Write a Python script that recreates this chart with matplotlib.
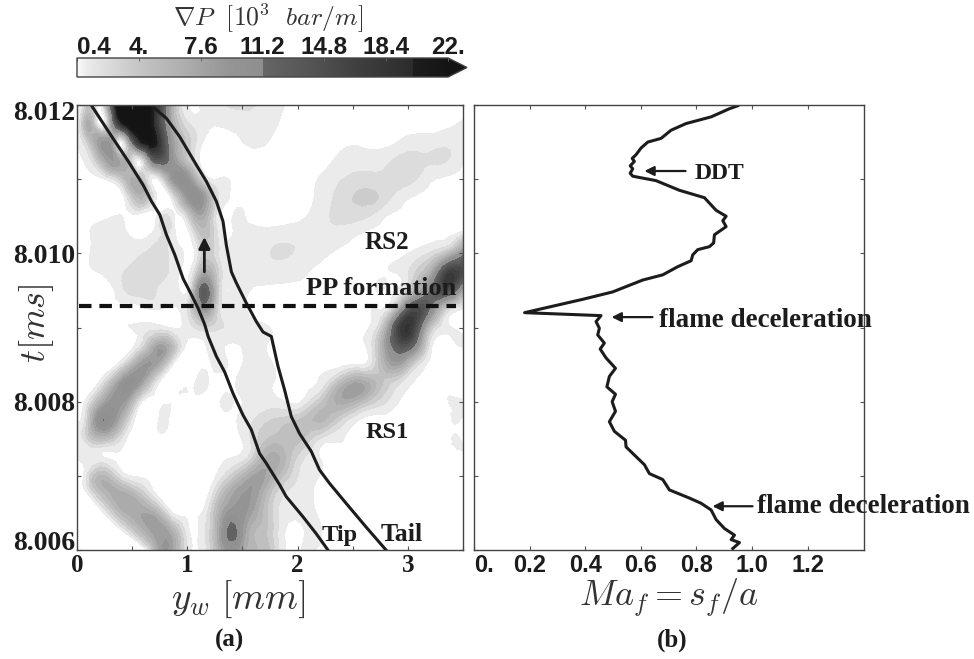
import numpy as np
import matplotlib
matplotlib.use('Agg')
import matplotlib.pyplot as plt
import matplotlib.tri as mtri
from matplotlib.colors import LinearSegmentedColormap, Normalize
from matplotlib.cm import ScalarMappable
from matplotlib.transforms import ScaledTranslation

plt.rcParams['mathtext.fontset'] = 'cm'

# pressure gradient (a) along rows of constant time
# row_t in us past 8 ms, row_y in mm, row_v in 10^3 bar/m
row_t = [12.0, 11.75, 11.5, 11.25, 11.0, 10.75, 10.5, 10.25, 10.0, 9.75, 9.5, 9.25, 9.0,
         8.75, 8.5, 8.25, 8.0, 7.75, 7.5, 7.25, 7.0, 6.75, 6.5, 6.25, 6.0]
row_y = [
    [0, .03, .09, .19, .36, .49, .66, .96, 1.2, 1.85, 2.0, 2.8, 3.6],
    [0, .03, .13, .25, .37, .49, .66, .84, 1.05, 1.3, 1.8, 1.95, 2.6, 3.3, 3.45, 3.6],
    [0, .12, .25, .34, .40, .49, .66, .78, .98, 1.14, 1.4, 2.1, 2.8, 2.9, 3.2, 3.4, 3.6],
    [0, .06, .2, .37, .46, .55, .66, .77, .90, 1.11, 1.4, 1.8, 2.2, 2.32, 2.5, 2.85, 3.1, 3.36, 3.5, 3.6],
    [0, .25, .4, .55, .71, .81, .95, 1.14, 1.26, 1.5, 2.05, 2.18, 2.41, 2.7, 3.08, 3.25, 3.6],
    [0, .43, .63, .84, 1.08, 1.23, 1.38, 1.6, 2.0, 2.15, 2.32, 2.7, 2.85, 3.02, 3.3, 3.6],
    [0, .33, .5, .72, .81, .92, 1.01, 1.14, 1.26, 1.41, 1.6, 1.95, 2.08, 2.29, 2.65, 2.8, 3.0, 3.6],
    [0, .12, .4, .7, .89, 1.01, 1.08, 1.17, 1.29, 1.45, 1.75, 2.0, 2.4, 2.55, 2.8, 3.3, 3.42, 3.6],
    [0, .12, .4, .6, .8, .95, 1.04, 1.11, 1.17, 1.29, 1.45, 1.75, 1.95, 2.1, 2.3, 2.5, 3.0, 3.2, 3.4, 3.6],
    [0, .18, .45, .65, .8, .93, 1.01, 1.08, 1.17, 1.29, 1.40, 1.6, 1.9, 2.1, 2.3, 2.7, 2.86, 3.07, 3.25, 3.4, 3.6],
    [0, .34, .43, .6, .72, .85, .93, 1.05, 1.14, 1.26, 1.41, 1.6, 2.15, 2.65, 2.77, 3.0, 3.2, 3.35, 3.5, 3.6],
    [0, .25, .55, .7, .82, .92, 1.02, 1.14, 1.26, 1.38, 1.54, 1.7, 2.15, 2.6, 2.72, 2.88, 3.05, 3.2, 3.35, 3.5, 3.6],
    [0, .4, .84, 1.0, 1.15, 1.35, 1.6, 1.75, 1.9, 2.55, 2.65, 2.8, 2.95, 3.15, 3.3, 3.4, 3.6],
    [0, .52, .66, .78, .98, 1.12, 1.25, 1.38, 1.55, 1.72, 1.85, 2.5, 2.62, 2.73, 2.95, 3.1, 3.22, 3.4, 3.6],
    [0, .36, .5, .62, .75, .87, 1.1, 1.22, 1.29, 1.38, 1.5, 1.62, 1.78, 1.9, 2.4, 2.54, 2.7, 2.9, 3.05, 3.17, 3.4, 3.6],
    [0, .19, .33, .48, .6, .74, .95, 1.07, 1.13, 1.19, 1.35, 1.44, 1.58, 1.78, 1.9, 2.05, 2.18, 2.35, 2.58, 2.8, 2.93, 3.04, 3.2, 3.6],
    [0, .07, .22, .37, .48, .59, .75, .95, 1.05, 1.25, 1.35, 1.43, 1.5, 1.7, 1.85, 1.95, 2.03, 2.2, 2.42, 2.6, 2.8, 2.92, 3.1, 3.6],
    [0, .04, .15, .27, .42, .52, .7, .9, 1.05, 1.35, 1.45, 1.6, 1.8, 2.0, 2.2, 2.35, 2.55, 2.8, 3.35, 3.45, 3.5, 3.6],
    [0, .1, .28, .45, .65, .85, 1.0, 1.35, 1.49, 1.62, 1.8, 2.0, 2.2, 2.42, 2.7, 3.35, 3.45, 3.5, 3.6],
    [0, .24, .4, .8, 1.2, 1.41, 1.6, 1.78, 2.0, 2.2, 2.4, 3.0, 3.6],
    [0, .06, .18, .36, .48, .7, 1.05, 1.26, 1.48, 1.63, 1.78, 1.92, 2.08, 2.2, 2.4, 3.0, 3.6],
    [0, .1, .36, .54, .72, .95, 1.19, 1.32, 1.54, 1.69, 1.81, 2.05, 2.14, 2.3, 3.0, 3.6],
    [0, .24, .42, .57, .72, .87, 1.0, 1.13, 1.26, 1.39, 1.57, 1.69, 1.85, 2.1, 2.17, 2.3, 3.0, 3.6],
    [0, .42, .69, .87, 1.02, 1.06, 1.10, 1.26, 1.40, 1.54, 1.72, 1.85, 2.15, 2.22, 2.35, 3.0, 3.6],
    [0, .63, .75, .9, 1.04, 1.07, 1.11, 1.26, 1.48, 1.72, 1.85, 2.1, 2.16, 2.35, 3.0, 3.6],
]
row_v = [
    [0, .4, 4, 0, 22, 25, 22, 1, 1, .6, 0, 0, 0],
    [0, 2, 6, 0, 16, 24, 22, 8, 1.2, .6, .5, 0, 0, 0, .4, 1],
    [.4, 4.5, 9, 5, 0, 10, 22, 15, 4, .4, 0, 0, 0, .4, 1, 1.2, 1],
    [0, .4, 4.5, 8, 5.5, 0, 9, 13, 8, .4, 0, 0, 0, .4, 1, 1.6, 1.9, 1.6, .4, .2],
    [0, .4, 3.5, 6, 0, 5, 11, 2.5, .4, 0, 0, .4, 1.6, 2, 1.6, .4, 0],
    [0, .4, 4.5, 0, 11, 4, .4, 0, 0, .4, 1.6, 3, 1.6, .4, 0, 0],
    [0, .4, 0, .4, 2, 0, 3, 7, 1.5, .4, 0, 0, .4, 1.6, 1.6, .4, 0, 0],
    [0, .4, 1, .8, .5, 0, 2.5, 4.5, 1.2, .7, 1, 1.2, 1, .4, 0, 0, .4, 1.5],
    [0, .4, 1, 1.6, 1.7, .6, 0, 2, 3.5, 1.5, 1, 1.6, 1.6, 1, .4, 0, .4, 1.8, 6, 16],
    [0, .4, 1.8, 2.2, 1.9, .4, .2, 3, 7, 2.5, .6, .7, 1, .4, 0, 0, .4, 2.8, 9, 17, 10],
    [0, .4, 1.6, 2.3, 1.6, .6, .4, 4, 13, 5, .6, .3, 0, 0, .4, 3, 11, 15, 7, 3],
    [0, 0, 0, .5, .2, .4, 2.5, 9, 3.5, 1, .4, 0, 0, 0, .4, 4, 15, 11, 3, .4, .2],
    [0, 0, .4, .9, 2.5, 1.5, .7, .4, 0, 0, .4, 6, 18, 8, 1.2, .4, 0],
    [0, .4, 5, 8, .4, 0, .8, .2, .8, .4, 0, 0, .4, 4, 14, 8, .4, 0, 0],
    [0, .4, 5.5, 9, 6.5, .4, 0, .4, .8, .3, .4, .8, .4, 0, 0, .4, 2.5, 8, 3, .4, 0, 0],
    [0, .4, 6, 10.5, 7, .4, 0, .4, .8, .4, 0, .4, .8, .4, 0, 0, .4, 4, 7.5, 3.5, 1.6, .4, 0, 0],
    [0, .4, 6.5, 9.5, 6.5, .4, 0, 0, 0, 0, .7, .3, .4, .9, .6, .1, .4, 3.5, 7, 4.5, 1.7, .4, 0, 0],
    [.5, .5, 7.5, 11, 5, .4, 0, 0, 0, 0, .4, 1.6, 3, 4, 5.5, 3.5, .4, 0, 0, .5, .2, 0],
    [.6, 3, 4.5, .4, 0, 0, 0, 0, .4, 2.5, 4.5, 4.5, 1.6, .4, 0, 0, .5, .2, 0],
    [.6, .4, 0, 0, 0, .4, 3, 7, 2.6, .4, 0, 0, 0],
    [0, .4, 5, 2.5, .4, 0, 0, .4, 5, 8, 6, 3, .8, .4, 0, 0, 0],
    [0, .4, 7, 5, .4, 0, .4, 5, 9, 6, 2.5, .8, .4, 0, 0, 0],
    [0, .4, 6, 7.5, 6, .4, 0, .4, 5, 9.5, 8, 5, 1.2, .7, .4, 0, 0, 0],
    [0, .4, 8, 6, .4, .1, .4, 5.5, 12, 7, 4, .9, .7, .4, 0, 0, 0],
    [0, .4, 8, 6, .4, .1, .4, 5, 8, 4.5, .9, .7, .4, 0, 0, 0],
]

# flame tip and tail positions, panel (a)
tip_y = [.133, .238, .344, .465, .600, .676, .751, .811, .887, .962, 1.038, 1.098, 1.158, 1.189,
         1.264, 1.339, 1.415, 1.505, 1.581, 1.656, 1.716, 1.837, 1.897, 2.048, 2.169, 2.275]
tip_t = [8.01199, 8.01175, 8.01151, 8.01124, 8.01092, 8.01070, 8.01052, 8.01025, 8.00998, 8.00966,
         8.00944, 8.00926, 8.00904, 8.00888, 8.00861, 8.00840, 8.00811, 8.00782, 8.00762, 8.00730,
         8.00717, 8.00688, 8.00672, 8.00645, 8.00622, 8.00600]
tail_y = [.676, .811, .932, 1.083, 1.173, 1.264, 1.324, 1.354, 1.400, 1.445, 1.535, 1.626, 1.686,
          1.762, 1.822, 1.882, 1.943, 2.018, 2.124, 2.199, 2.289, 2.440, 2.621, 2.802]
tail_t = [8.01199, 8.01182, 8.01157, 8.01119, 8.01097, 8.01070, 8.01043, 8.01011, 8.00975, 8.00960,
          8.00933, 8.00908, 8.00894, 8.00888, 8.00848, 8.00816, 8.00780, 8.00757, 8.00733, 8.00708,
          8.00690, 8.00663, 8.00631, 8.00600]

# flame Mach number, panel (b)
ma_f = [.949, .919, .853, .763, .709, .673, .625, .601, .583, .569, .577, .562, .571, .562, .571,
        .655, .739, .829, .871, .907, .895, .907, .865, .862, .847, .805, .787, .781, .733, .679,
        .607, .499, .391, .182, .457, .439, .451, .445, .469, .454, .475, .509, .487, .478, .509,
        .497, .509, .487, .505, .545, .547, .613, .631, .679, .703, .775, .817, .853, .871, .901,
        .937, .925, .955, .931]
ma_t = [8.01199, 8.01195, 8.01184, 8.01175, 8.01166, 8.01155, 8.01150, 8.01142, 8.01133, 8.01128,
        8.01124, 8.01118, 8.01114, 8.01108, 8.01104, 8.01098, 8.01085, 8.01075, 8.01058, 8.01050,
        8.01044, 8.01036, 8.01025, 8.01014, 8.01009, 8.01005, 8.00998, 8.00990, 8.00982, 8.00971,
        8.00964, 8.00948, 8.00938, 8.00920, 8.00916, 8.00908, 8.00899, 8.00890, 8.00879, 8.00871,
        8.00859, 8.00845, 8.00834, 8.00820, 8.00810, 8.00800, 8.00787, 8.00773, 8.00760, 8.00748,
        8.00739, 8.00715, 8.00703, 8.00695, 8.00681, 8.00670, 8.00663, 8.00654, 8.00641, 8.00629,
        8.00620, 8.00614, 8.00610, 8.00602]

pp_time = 8.00929
cbar_ticks = [0.4, 4, 7.6, 11.2, 14.8, 18.4, 22]
cbar_labels = ['0.4', '4.', '7.6', '11.2', '14.8', '18.4', '22.']

W, H = 974, 659
INK = '#1c1c1c'


def px_axes(left, top, right, bottom):
    return [left / W, 1 - bottom / H, (right - left) / W, (bottom - top) / H]


# grey ramp with the two jumps seen on the colour bar
vmin, vmax = 0.4, 22.0
ramp = [(.4, .98), (1, .92), (2.2, .86), (3.4, .80), (4.6, .75), (5.8, .71), (7, .67), (8.2, .62),
        (9.4, .58), (11.2, .56), (11.2, .40), (14, .33), (17, .24), (20, .17), (20, .11), (22, .08)]
cmap = LinearSegmentedColormap.from_list(
    'gradp', [((v - vmin) / (vmax - vmin), (g, g, g)) for v, g in ramp], N=512)
cmap = cmap.with_extremes(over='#141414')
norm = Normalize(vmin, vmax)

fig = plt.figure(figsize=(W / 100, H / 100), dpi=100)

# flatten the rows into scattered nodes, triangulate in us so the cells are not squashed
node_y = np.concatenate(row_y)
node_us = np.concatenate([[t] * len(ys) for t, ys in zip(row_t, row_y)])
node_v = np.concatenate(row_v)
tri_us = mtri.Triangulation(node_y, node_us)
fine_tri, fine_v = mtri.UniformTriRefiner(tri_us).refine_field(node_v, subdiv=2)
tri_t = mtri.Triangulation(fine_tri.x, 8 + fine_tri.y / 1000, fine_tri.triangles)

# panel (a)
ax = fig.add_axes(px_axes(77, 105, 463, 550))
ax.tricontourf(tri_t, fine_v, levels=np.arange(0.4, 22.01, 1.2), cmap=cmap, norm=norm, extend='max')
ax.plot(tip_y, tip_t, color=INK, lw=2.2)
ax.plot(tail_y, tail_t, color=INK, lw=2.2)
ax.plot([0.02, 3.44], [pp_time, pp_time], color='#111111', lw=3, dashes=(3.0, 1.9))
ax.annotate('', xy=(1.155, 8.01022), xytext=(1.155, 8.00975),
            arrowprops=dict(arrowstyle='-|>', color=INK, lw=2, mutation_scale=17, shrinkA=0, shrinkB=0))
ax.set_xlim(0, 3.5)
ax.set_ylim(8.006, 8.012)
ax.set_xticks([0, 1, 2, 3])
ax.set_xticklabels(['0', '1', '2', '3'], family='Liberation Serif', weight='bold', fontsize=18)
ax.set_xticks([.5, 1.5, 2.5, 3.5], minor=True)
ax.set_yticks([8.006, 8.008, 8.010, 8.012])
ax.set_yticklabels(['8.006', '8.008', '8.010', '8.012'], family='Liberation Serif', weight='bold', fontsize=20)
ax.set_yticks([8.007, 8.009, 8.011], minor=True)
ax.tick_params(which='both', direction='in', top=True, right=True, length=3, width=0.8, color='#555555',
               labelcolor=INK, pad=1)
ax.tick_params(axis='x', pad=3)
# the end labels sit inside the axis range, as in the original
for lab, shift in zip(ax.get_yticklabels(), [9, 0, 0, -6]):
    lab.set_transform(lab.get_transform() + ScaledTranslation(0, shift / 100, fig.dpi_scale_trans))

for txt, x, y, size in [('RS2', 2.81, 8.01015, 18), ('PP formation', 2.76, 8.00953, 19), ('RS1', 2.81, 8.00759, 17.5),
                        ('Tip', 2.38, 8.0062, 17.5), ('Tail', 2.94, 8.00621, 18.5)]:
    ax.text(x, y, txt, family='Liberation Serif', weight='bold', fontsize=size, color=INK, ha='center', va='center')

# panel (b)
ax2 = fig.add_axes(px_axes(474, 105, 864, 550))
ax2.plot(ma_f, ma_t, color=INK, lw=2.2)
ax2.set_xlim(0, 1.403)
ax2.set_ylim(8.006, 8.012)
ax2.set_xticks([0, .2, .4, .6, .8, 1., 1.2])
ax2.set_xticklabels(['0.', '0.2', '0.4', '0.6', '0.8', '1.0', '1.2'], family='Liberation Sans', weight='bold', fontsize=17)
ax2.get_xticklabels()[0].set_ha('left')
ax2.set_yticks([8.006, 8.007, 8.008, 8.009, 8.010, 8.011, 8.012])
ax2.set_yticklabels([])
ax2.tick_params(direction='in', top=True, right=True, length=3, width=0.8, color='#555555', labelcolor=INK, pad=3)

for tail, head, t in [(.761, .613, 8.01111), (.642, .495, 8.00914), (1.002, .858, 8.00659)]:
    ax2.annotate('', xy=(head, t), xytext=(tail, t),
                 arrowprops=dict(arrowstyle='-|>', color=INK, lw=1.6, mutation_scale=14, shrinkA=0, shrinkB=0))
for txt, x, t, size in [('DDT', .883, 8.01108, 17), ('flame deceleration', 1.05, 8.0091, 19.5),
                        ('flame deceleration', 1.40, 8.00659, 19.5)]:
    ax2.text(x, t, txt, family='Liberation Serif', weight='bold', fontsize=size, color=INK, ha='center', va='center')

for a in (ax, ax2):
    for s in a.spines.values():
        s.set_color('#444444')
        s.set_linewidth(1.0)

# colour bar
cax = fig.add_axes(px_axes(77, 58, 467, 77))
cb = fig.colorbar(ScalarMappable(norm=norm, cmap=cmap), cax=cax, orientation='horizontal', extend='max',
                  extendfrac=0.051, drawedges=False)
cb.set_ticks(cbar_ticks)
cb.set_ticklabels(cbar_labels, family='Liberation Sans', weight='bold', fontsize=17.5, color=INK)
cb.ax.xaxis.set_ticks_position('top')
cb.ax.tick_params(direction='in', length=2, width=0.7, color='#666666', pad=-1)
cb.ax.get_xticklabels()[0].set_ha('left')
cb.outline.set_edgecolor('#444444')
cb.outline.set_linewidth(1.0)

# labels
fig.text(268 / W, 1 - 18 / H, r'$\nabla P\ \ [10^3\ \ bar/m]$', fontsize=18.5, color='#333333', ha='center', va='center')
fig.text(36 / W, 1 - 323 / H, r'$t[ms]$', fontsize=26, rotation=90, color='#333333', ha='center', va='center')
fig.text(238 / W, 1 - 599 / H, r'$y_w\ [mm]$', fontsize=27, color='#333333', ha='center', va='center')
fig.text(669 / W, 1 - 598 / H, r'$Ma_f = s_f/a$', fontsize=26, color='#333333', ha='center', va='center')
fig.text(230 / W, 1 - 640 / H, '(a)', family='Liberation Serif', weight='bold', fontsize=18, color=INK, ha='center', va='center')
fig.text(672 / W, 1 - 640 / H, '(b)', family='Liberation Serif', weight='bold', fontsize=18, color=INK, ha='center', va='center')

fig.savefig('out.png', dpi=100)
